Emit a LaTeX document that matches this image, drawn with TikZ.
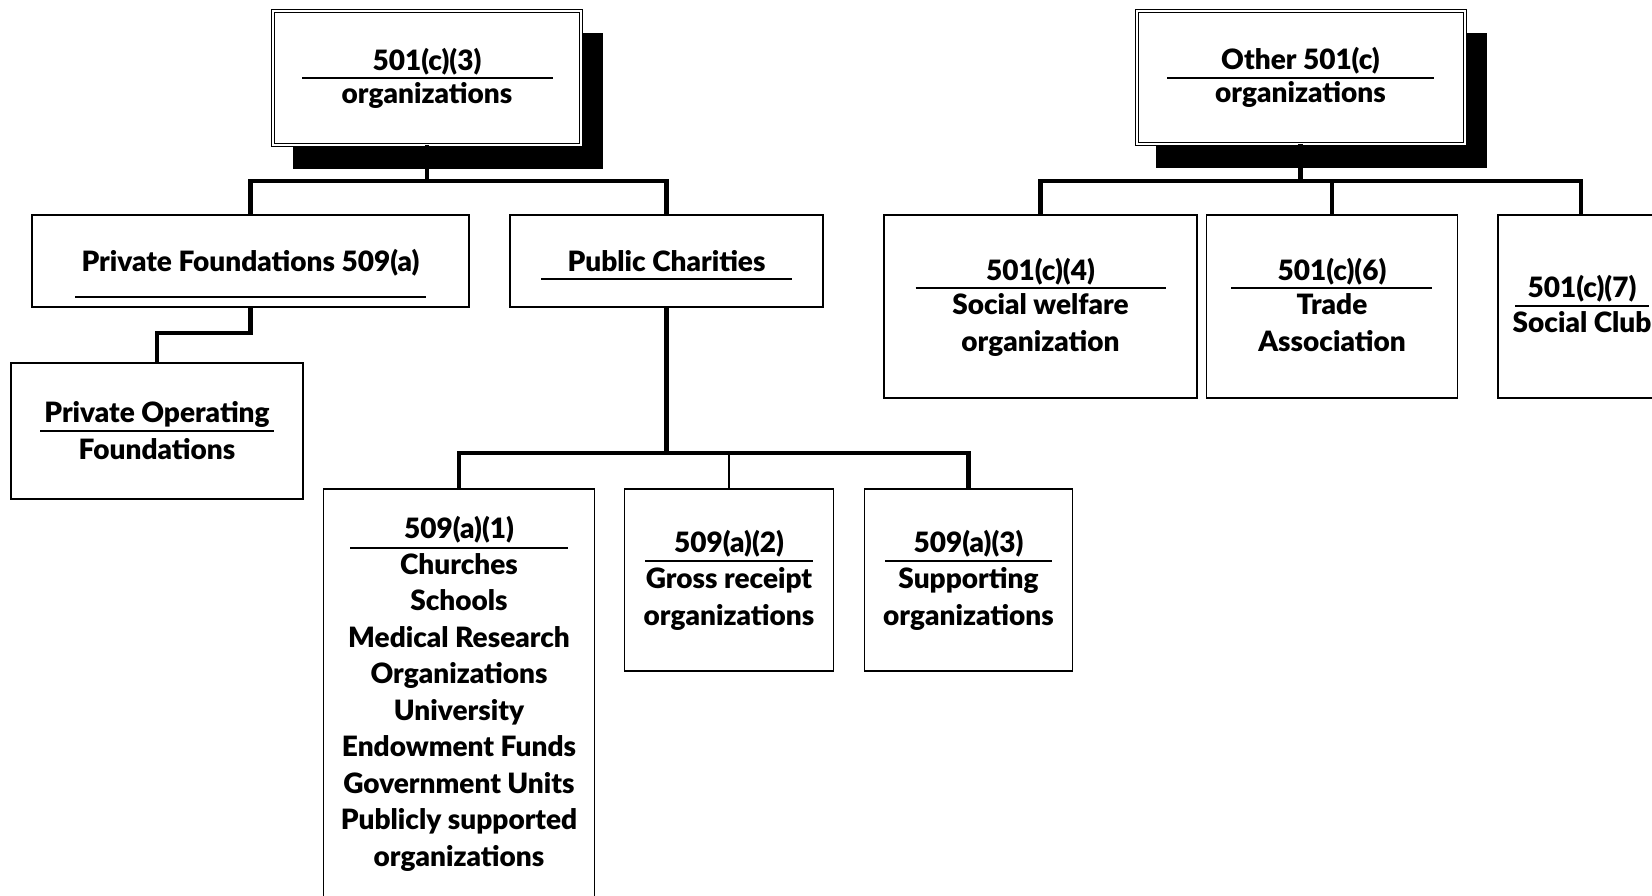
\documentclass[tikz,border=0pt]{standalone}
\usepackage{fontspec}
\setmainfont{Lato}[BoldFont={Lato Black}]
\usetikzlibrary{positioning,shadows}

\begin{document}
\begin{tikzpicture}[x=1pt, y=-1pt,
  box/.style={draw, line width=1.2pt, inner sep=0pt, outer sep=0pt, fill=white},
  topbox/.style={box, double, double distance=2pt, line width=1pt,
    drop shadow={shadow xshift=21pt, shadow yshift=-23pt, fill=black, draw=black, line width=2.5pt, opacity=1}},
  lbl/.style={font=\bfseries\fontsize{28}{36.5}\selectfont, align=center, inner sep=0pt, anchor=base},
  rul/.style={line width=1.2pt},
  link/.style={line width=4.5pt},
  thinlink/.style={line width=1.3pt}]
\clip (0,0) rectangle (1652,896);

% top level
\node[topbox, minimum width=308pt, minimum height=134pt] (c3) at (427,78) {};
\node[lbl] (c3t) at (427,71) {501(c)(3)};
\node[lbl] (c3b) at (427,104) {organizations};
\draw[rul] (302,78) -- (553,78);

\node[topbox, minimum width=328pt, minimum height=133pt] (oc) at (1300.5,77.5) {};
\node[lbl] (oct) at (1300.5,70) {Other 501(c)};
\node[lbl] (ocb) at (1300.5,103) {organizations};
\draw[rul] (1167,78) -- (1434,78);

% 501(c)(3) branch
\node[box, minimum width=437pt, minimum height=92pt] (pf) at (250.5,261) {};
\node[lbl] (pft) at (250.5,271) {Private Foundations 509(a)};
\draw[rul] (75,297) -- (426,297);

\node[box, minimum width=313pt, minimum height=92pt] (pc) at (666.5,261) {};
\node[lbl] (pct) at (666.5,271) {Public Charities};
\draw[rul] (541,279) -- (792,279);

\node[box, minimum width=292pt, minimum height=136pt] (pof) at (157,431) {};
\node[lbl] (poft) at (157,459) {Private Operating\\Foundations};
\draw[rul] (40,431) -- (274,431);

\node[box, minimum width=271.5pt, minimum height=471pt] (a1) at (459,724.5) {};
\node[lbl] (a1t) at (459,538) {509(a)(1)};
\draw[rul] (350,548) -- (568,548);
\node[lbl] (a1b) at (459,866) {Churches\\Schools\\Medical Research\\Organizations\\University\\Endowment Funds\\Government Units\\Publicly supported\\organizations};

\node[box, minimum width=208.5pt, minimum height=182pt] (a2) at (729,580) {};
\node[lbl] (a2t) at (729,552) {509(a)(2)};
\draw[rul] (645,561) -- (813,561);
\node[lbl] (a2b) at (729,625) {Gross receipt\\organizations};

\node[box, minimum width=208.5pt, minimum height=182pt] (a3) at (968.5,580) {};
\node[lbl] (a3t) at (968.5,552) {509(a)(3)};
\draw[rul] (885,561) -- (1052,561);
\node[lbl] (a3b) at (968.5,625) {Supporting\\organizations};

% other 501(c) branch
\node[box, minimum width=313pt, minimum height=183pt] (c4) at (1040.5,306.5) {};
\node[lbl] (c4t) at (1040.5,280) {501(c)(4)};
\draw[rul] (915.5,288) -- (1166,288);
\node[lbl] (c4b) at (1040.5,351) {Social welfare\\organization};

\node[box, minimum width=250.5pt, minimum height=183pt] (c6) at (1332,306.5) {};
\node[lbl] (c6t) at (1332,280) {501(c)(6)};
\draw[rul] (1231,288) -- (1432,288);
\node[lbl] (c6b) at (1332,351) {Trade\\Association};

\node[box, minimum width=166pt, minimum height=183pt] (c7) at (1581,306.5) {};
\node[lbl] (c7t) at (1582,297) {501(c)(7)};
\draw[rul] (1515,306) -- (1649,306);
\node[lbl] (c7b) at (1582,332) {Social Club};

% connectors
\path (c3.south) ++(0,36) coordinate (c3j);
\draw[link] (c3.south) -- (c3j) -| (pf.north);
\draw[link] (c3j) -| (pc.north);
\draw[link] (pf.south) -- ++(0,26) -| (pof.north);

\path (pc.south) ++(0,146) coordinate (pcj);
\draw[thinlink] (pcj) -| (a2.north);
\draw[link] (pc.south) -- (pcj) -| (a1.north);
\draw[link] (pcj) -| (a3.north);

\path (oc.south) ++(0,37) coordinate (ocj);
\draw[link] (oc.south) -- (ocj) -| (c4.north);
\draw[link] (ocj) -| (c6.north);
\draw[link] (ocj) -| (c7.north);
\end{tikzpicture}
\end{document}
